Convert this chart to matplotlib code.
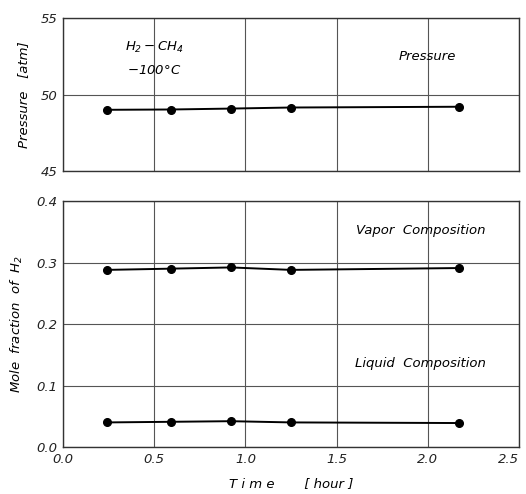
import matplotlib
matplotlib.use("Agg")
import matplotlib.pyplot as plt

# Data
time_h = [0.24, 0.59, 0.92, 1.25, 2.17]
pressure_atm = [49.0, 49.02, 49.08, 49.15, 49.2]
vapor_h2 = [0.288, 0.290, 0.292, 0.288, 0.291]
liquid_h2 = [0.040, 0.041, 0.042, 0.040, 0.039]

x_ticks = [0.0, 0.5, 1.0, 1.5, 2.0, 2.5]
x_ticklabels = ["0.0", "0.5", "1.0", "1.5", "2.0", "2.5"]
p_ticks = [45, 50, 55]
y_ticks = [0.0, 0.1, 0.2, 0.3, 0.4]

plt.rcParams['font.family'] = ['DejaVu Sans']
plt.rcParams['font.style'] = 'italic'
plt.rcParams['mathtext.fontset'] = 'dejavusans'
plt.rcParams['mathtext.default'] = 'it'

fig = plt.figure(figsize=(5.26, 4.94), dpi=100)
ax1 = fig.add_axes([0.1198, 0.6538, 0.8669, 0.3098])
ax2 = fig.add_axes([0.1198, 0.0951, 0.8669, 0.4980])

grid_kw = dict(color='#555555', linewidth=0.8)
line_kw = dict(color='black', linewidth=1.4, marker='o', markersize=5.5,
               markerfacecolor='black', markeredgecolor='black')

for ax in (ax1, ax2):
    ax.set_xlim(0, 2.5)
    ax.set_xticks(x_ticks)
    ax.grid(True, **grid_kw)
    ax.tick_params(length=0, labelsize=9.5, colors='#222222', pad=4)
    for s in ax.spines.values():
        s.set_linewidth(1.0)
        s.set_color('#333333')

ax1.set_ylim(45, 55)
ax1.set_yticks(p_ticks)
ax1.set_xticklabels([])
ax1.plot(time_h, pressure_atm, **line_kw)
ax1.set_ylabel("Pressure   [atm]", fontsize=9.5, labelpad=8)
ax1.text(0.5, 53.1, "$H_2-CH_4$", ha='center', va='center', fontsize=9.5)
ax1.text(0.5, 51.6, "$-100\\degree C$", ha='center', va='center', fontsize=9.5)
ax1.text(2.0, 52.5, "Pressure", ha='center', va='center', fontsize=9.5)

ax2.set_ylim(0, 0.4)
ax2.set_yticks(y_ticks)
ax2.set_yticklabels([f"{v:.1f}" for v in y_ticks])
ax2.set_xticklabels(x_ticklabels)
ax2.get_xticklabels()[-1].set_horizontalalignment('right')
ax2.plot(time_h, vapor_h2, **line_kw)
ax2.plot(time_h, liquid_h2, **line_kw)
ax2.set_ylabel("Mole  fraction  of  $H_2$", fontsize=9.5, labelpad=8)
ax2.set_xlabel("T i m e       [ hour ]", fontsize=9.5, labelpad=8)
ax2.text(1.96, 0.352, "Vapor  Composition", ha='center', va='center', fontsize=9.5)
ax2.text(1.96, 0.135, "Liquid  Composition", ha='center', va='center', fontsize=9.5)

fig.savefig("out.png", dpi=100, facecolor='white')
